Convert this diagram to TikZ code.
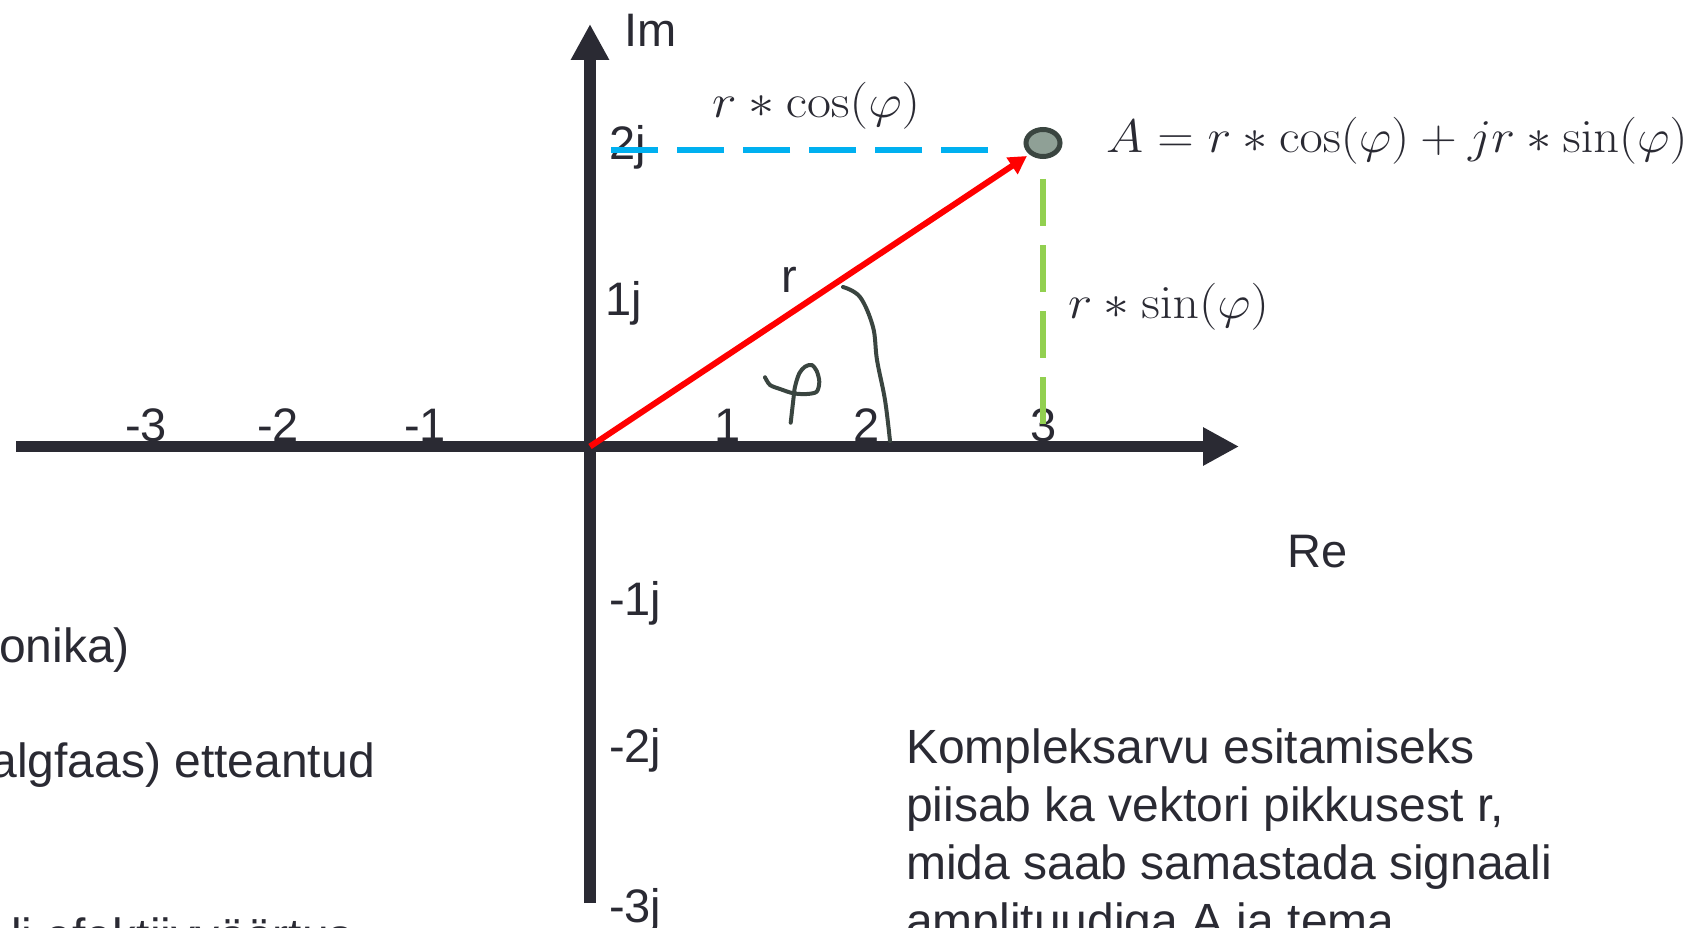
\RequirePackage{fix-cm}
\documentclass[tikz,border=0pt]{standalone}
\usepackage[no-math]{fontspec}
\setmainfont{Liberation Sans}
\usetikzlibrary{arrows.meta,shapes.geometric}
\definecolor{axiscol}{HTML}{2A2A33}
\definecolor{bluedash}{HTML}{00B0F0}
\definecolor{greendash}{HTML}{92D050}
\definecolor{pointfill}{HTML}{8FA096}
\definecolor{inkcol}{HTML}{3A4540}
\begin{document}
\begin{tikzpicture}[x=1pt,y=-1pt,
  lbl/.style={font=\fontsize{47}{56}\selectfont, text=axiscol, inner sep=0pt},
  body/.style={font=\fontsize{48}{58}\selectfont, text=axiscol, inner sep=0pt, align=left},
  mathlbl/.style={font=\fontsize{47}{56}\selectfont, text=axiscol, inner sep=0pt},
  axisline/.style={draw=axiscol, line width=11.5pt, -{Triangle[length=36pt,width=36pt]}},
  vecline/.style={draw=red, line width=6pt, -{Triangle[length=18pt,width=19pt]}},
  projdash/.style={line width=6.5pt, dash pattern=on 47pt off 19pt},
  inkline/.style={draw=inkcol, line width=4pt, line cap=round, line join=round}
]
\useasboundingbox (0,0) rectangle (1689,928);
\clip (0,0) rectangle (1689,928);

% coordinates
\coordinate (O) at (590,446.5);
\coordinate (xstart) at (16,446.5);
\coordinate (xend) at (1239,446.5);
\coordinate (ybot) at (590,903);
\coordinate (ytop) at (590,24);
\coordinate (tipA) at (1027,156);
\coordinate (bR) at (988,150);
\coordinate (bL) at (611,150);
\coordinate (gT) at (1043,179);
\coordinate (gB) at (1043,425);

% tick labels
\node[lbl, anchor=base] (tm3) at (146,441) {-3};
\node[lbl, anchor=base] (tm2) at (278,441) {-2};
\node[lbl, anchor=base] (tm1) at (425,441) {-1};
\node[lbl, anchor=base] (tp1) at (728,441) {1};
\node[lbl, anchor=base] (tp2) at (867,441) {2};
\node[lbl, anchor=base] (tp3) at (1044,441) {3};
\node[lbl, anchor=base west] (j2) at (609,160) {2j};
\node[lbl, anchor=base west] (j1) at (605,315) {1j};
\node[lbl, anchor=base west] (jm1) at (609,615) {-1j};
\node[lbl, anchor=base west] (jm2) at (609,762) {-2j};
\node[lbl, anchor=base west] (jm3) at (609,922) {-3j};
\node[lbl, anchor=base west] (im) at (624,47) {Im};
\node[lbl, anchor=base west] (re) at (1287,567) {Re};
\node[lbl, anchor=base west] (rlab) at (781,292) {r};

% axes
\draw[axisline] (xstart) -- (xend);
\draw[axisline] (ybot) -- (ytop);

% projections
\draw[projdash, draw=bluedash] (bR) -- (bL);
\draw[projdash, draw=greendash] (gT) -- (gB);

% vector
\draw[vecline] (O) -- (tipA);
\node[ellipse, draw=inkcol, fill=pointfill, line width=5pt, minimum width=34pt, minimum height=27pt, inner sep=0pt] (A) at (1043,143) {};

% hand drawn angle and phi
\draw[inkline] plot[smooth, tension=0.6] coordinates {(843,287) (860,297) (873,327) (877,360) (885,400) (890,441)};
\draw[inkline] plot[smooth, tension=0.5] coordinates {(765,377.3) (770,385) (780,389) (793.3,393.3) (806.7,394) (816.7,391.7) (819.3,381.7) (816.7,371) (811.7,365) (805,366.7) (799.3,373.3) (795,386.7) (793.3,400) (790.7,422.7)};

% math labels
\node[mathlbl, anchor=base west] (rcos) at (712,118) {\scalebox{1.11}[1]{$r\ast\cos(\varphi)$}};
\node[mathlbl, anchor=base west] (rsin) at (1068,318) {\scalebox{1.1}[1]{$r\ast\sin(\varphi)$}};
\node[mathlbl, anchor=base west] (formula) at (1106,153) {\scalebox{1.075}[1]{$A=r\ast\cos(\varphi)+jr\ast\sin(\varphi)$}};

% body texts
\node[body, anchor=base west] (t1) at (-1,662) {onika)};
\node[body, anchor=base east] (t2) at (375,777) {algfaas) etteantud};
\node[body, anchor=base east] (t3) at (353,952) {li efektiivväärtus};
\node[body, anchor=base west] (t4) at (906,937) {Kompleksarvu esitamiseks\\piisab ka vektori pikkusest r,\\mida saab samastada signaali\\amplituudiga A ja tema};
\end{tikzpicture}
\end{document}
